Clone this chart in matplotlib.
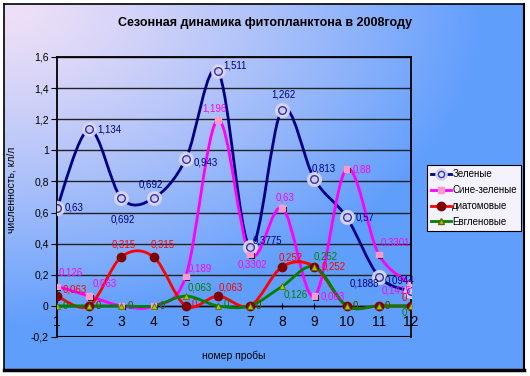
import numpy as np
import matplotlib
matplotlib.use("Agg")
import matplotlib.pyplot as plt
from matplotlib.path import Path
from matplotlib.patches import PathPatch
from matplotlib.lines import Line2D
import matplotlib.patheffects as pe

plt.rcParams["font.family"] = ["Liberation Sans", "DejaVu Sans"]

# ---------- data ----------
samples = list(range(1, 13))
green = [0.63, 1.134, 0.692, 0.692, 0.943, 1.511, 0.3775, 1.262, 0.813, 0.57, 0.1888, 0.0944]
bluegreen = [0.126, 0.063, 0, 0, 0.189, 1.196, 0.3302, 0.63, 0.063, 0.88, 0.3301, 0.1415]
diatoms = [0.063, 0, 0.315, 0.315, 0, 0.063, 0, 0.252, 0.252, 0, 0, 0]
euglena = [0, 0, 0, 0, 0.063, 0, 0, 0.126, 0.252, 0, 0, 0]
names = ["Зеленые", "Сине-зеленые", "диатомовые", "Евгленовые"]
yticks = [-0.2, 0, 0.2, 0.4, 0.6, 0.8, 1.0, 1.2, 1.4, 1.6]
ytick_labels = ["-0,2", "0", "0,2", "0,4", "0,6", "0,8", "1", "1,2", "1,4", "1,6"]

# label placement (pixel offset, ha) per point; default = right of point
lab_green = {1: (8, 0, "left"), 2: (8, 0, "left"), 3: (1, -21, "center"), 4: (-3, 14, "center"),
             5: (8, -3, "left"), 6: (5, 5, "left"), 7: (3, 7, "left"), 8: (1, 15, "center"),
             9: (9, 11, "center"), 10: (9, 0, "left"), 11: (0, -7, "right"), 12: (3, 11, "right")}
lab_bg = {1: (2, 14, "left"), 2: (3, 13, "left"), 5: (2, 8, "left"), 6: (-3, 11, "center"),
          7: (2, -10, "center"), 8: (3, 10, "center"), 9: (6, 0, "left"), 10: (6, 0, "left"),
          11: (2, 12, "left"), 12: (0, -7, "right")}
lab_dia = {1: (6, 7, "left"), 3: (2, 12, "center"), 4: (-3, 12, "left"), 5: (6, 2, "left"),
           6: (1, 9, "left"), 8: (8, 9, "center"), 9: (7, 0, "left"), 12: (-4, 8, "right")}
lab_eug = {5: (2, 9, "left"), 6: (6, 2, "left"), 8: (1, -8, "left"), 9: (-1, 10, "left"),
           12: (-4, -7, "right")}


def fmt(v):
    return f"{v:g}".replace(".", ",")


def smooth_path(x, y, k=1/6):
    # Excel-like smoothed line: cubic Bezier segments, Catmull-Rom tangents
    pts = np.column_stack([x, y]).astype(float)
    n = len(pts)
    verts = [pts[0]]
    codes = [Path.MOVETO]
    for i in range(n - 1):
        p0 = pts[i - 1] if i > 0 else pts[i]
        p1, p2 = pts[i], pts[i + 1]
        p3 = pts[i + 2] if i + 2 < n else pts[i + 1]
        verts += [p1 + (p2 - p0) * k, p2 - (p3 - p1) * k, p2]
        codes += [Path.CURVE4] * 3
    return Path(verts, codes)


W, H = 530, 376
fig = plt.figure(figsize=(W / 100, H / 100), dpi=100)

# background gradient (chart area) with black frame
bg = fig.add_axes([4 / W, 1 - 370 / H, 520 / W, 366 / H], zorder=0)
u, v = np.meshgrid(np.linspace(0, 1, 260), np.linspace(0, 1, 183))
t = np.clip(np.sqrt(u ** 2 + (v * 1.05) ** 2) / 0.92, 0, 1) ** 1.25
c0 = np.array([0.94, 0.88, 0.97])
c1 = np.array([0.38, 0.62, 0.99])
img = c0[None, None, :] * (1 - t[..., None]) + c1[None, None, :] * t[..., None]
bg.imshow(img, aspect="auto", extent=[0, 1, 1, 0], interpolation="bilinear")
bg.set_xlim(0, 1); bg.set_ylim(1, 0)
bg.set_xticks([]); bg.set_yticks([])
for s in bg.spines.values():
    s.set_linewidth(1.2); s.set_color("black")
bg.spines["bottom"].set_linewidth(2.5)
bg.spines["right"].set_linewidth(1.5)

ax = fig.add_axes([57 / W, 1 - 337 / H, 354 / W, 280 / H], zorder=1)
ax.patch.set_alpha(0)
ax.set_xlim(1, 12)
ax.set_ylim(-0.2, 1.6)
ax.set_yticks(yticks)
ax.set_yticklabels(ytick_labels, fontsize=7.5)
ax.set_xticks(samples)
ax.set_xticklabels([str(s) for s in samples], fontsize=7.5)
for yv in yticks:
    ax.axhline(yv, color="#222222", lw=1.0, zorder=1)
ax.spines["bottom"].set_position(("data", 0))
ax.spines["bottom"].set_linewidth(1.0)
for s in ["left", "top", "right"]:
    ax.spines[s].set_linewidth(1.3)
ax.axhline(-0.2, color="black", lw=1.5, zorder=1)
ax.tick_params(axis="x", direction="inout", length=5, width=0.8, pad=4)
ax.tick_params(axis="y", direction="out", length=4, width=0.8, pad=2)

series = [
    (green, "#000080", lab_green, "#000080"),
    (bluegreen, "#ff00ff", lab_bg, "#ff00ff"),
    (diatoms, "#ff0000", lab_dia, "#ff0000"),
    (euglena, "#008000", lab_eug, "#008000"),
]
for vals, col, _, _ in series:
    ax.add_patch(PathPatch(smooth_path(samples, vals), facecolor="none",
                           edgecolor=col, lw=2.0, zorder=3, capstyle="round"))

# markers
ax.plot(samples, green, ls="none", marker="o", ms=10, mfc="#e2def4", mec="#cfcfee",
        mew=1, alpha=0.9, zorder=4)
ax.plot(samples, green, ls="none", marker="o", ms=5.5, mfc="none", mec="#3333aa",
        mew=1.0, zorder=5)
ax.plot(samples, bluegreen, ls="none", marker="s", ms=4, mfc="#ff99cc", mec="#ff99cc",
        zorder=5, path_effects=[pe.SimplePatchShadow(offset=(1.2, -1.2), shadow_rgbFace="black",
                                                     alpha=1), pe.Normal()])
ax.plot(samples, diatoms, ls="none", marker="o", ms=6, mfc="#800000", mec="#800000", zorder=5)
ax.plot(samples, euglena, ls="none", marker="^", ms=5, mfc="#99cc00", mec="#666600",
        mew=0.6, zorder=6)

# data labels
for vals, col, labs, tcol in series:
    for x, yv in zip(samples, vals):
        dx, dy, ha = labs.get(x, (6, 0, "left"))
        ax.annotate(fmt(yv), (x, yv), xytext=(dx, dy), textcoords="offset pixels",
                    ha=ha, va="center", fontsize=7, color=tcol, zorder=7)

fig.text(265 / W, 1 - 23 / H, "Сезонная динамика фитопланктона в 2008году",
         ha="center", va="center", fontsize=9, fontweight="bold")
fig.text(234 / W, 1 - 356 / H, "номер пробы", ha="center", va="center", fontsize=7.5)
fig.text(12 / W, 1 - 190 / H, "численность, кл/л", ha="center", va="center",
         fontsize=7.5, rotation=90)

# legend
h1 = (Line2D([], [], color="#000080", lw=2, marker="o", ms=8, mfc="#e2def4", mec="#cfcfee"),
      Line2D([], [], ls="none", marker="o", ms=4.5, mfc="none", mec="#3333aa"))
h2 = Line2D([], [], color="#ff00ff", lw=2, marker="s", ms=4, mfc="#ff99cc", mec="#ff99cc")
h3 = Line2D([], [], color="#ff0000", lw=2, marker="o", ms=6, mfc="#800000", mec="#800000")
h4 = Line2D([], [], color="#008000", lw=2, marker="^", ms=5, mfc="#99cc00", mec="#666600")
leg = fig.legend([h1, h2, h3, h4], names, loc="upper left",
                 bbox_to_anchor=(427 / W, 1 - 165 / H), fontsize=7, frameon=True,
                 fancybox=False, borderpad=0.45, handlelength=2.0, handletextpad=0.15,
                 labelspacing=0.6, borderaxespad=0)
leg.get_frame().set_edgecolor("black")
leg.get_frame().set_linewidth(0.8)
leg.get_frame().set_facecolor("#f4f2fc")
leg.get_frame().set_alpha(1)

fig.savefig("out.png", dpi=100)
